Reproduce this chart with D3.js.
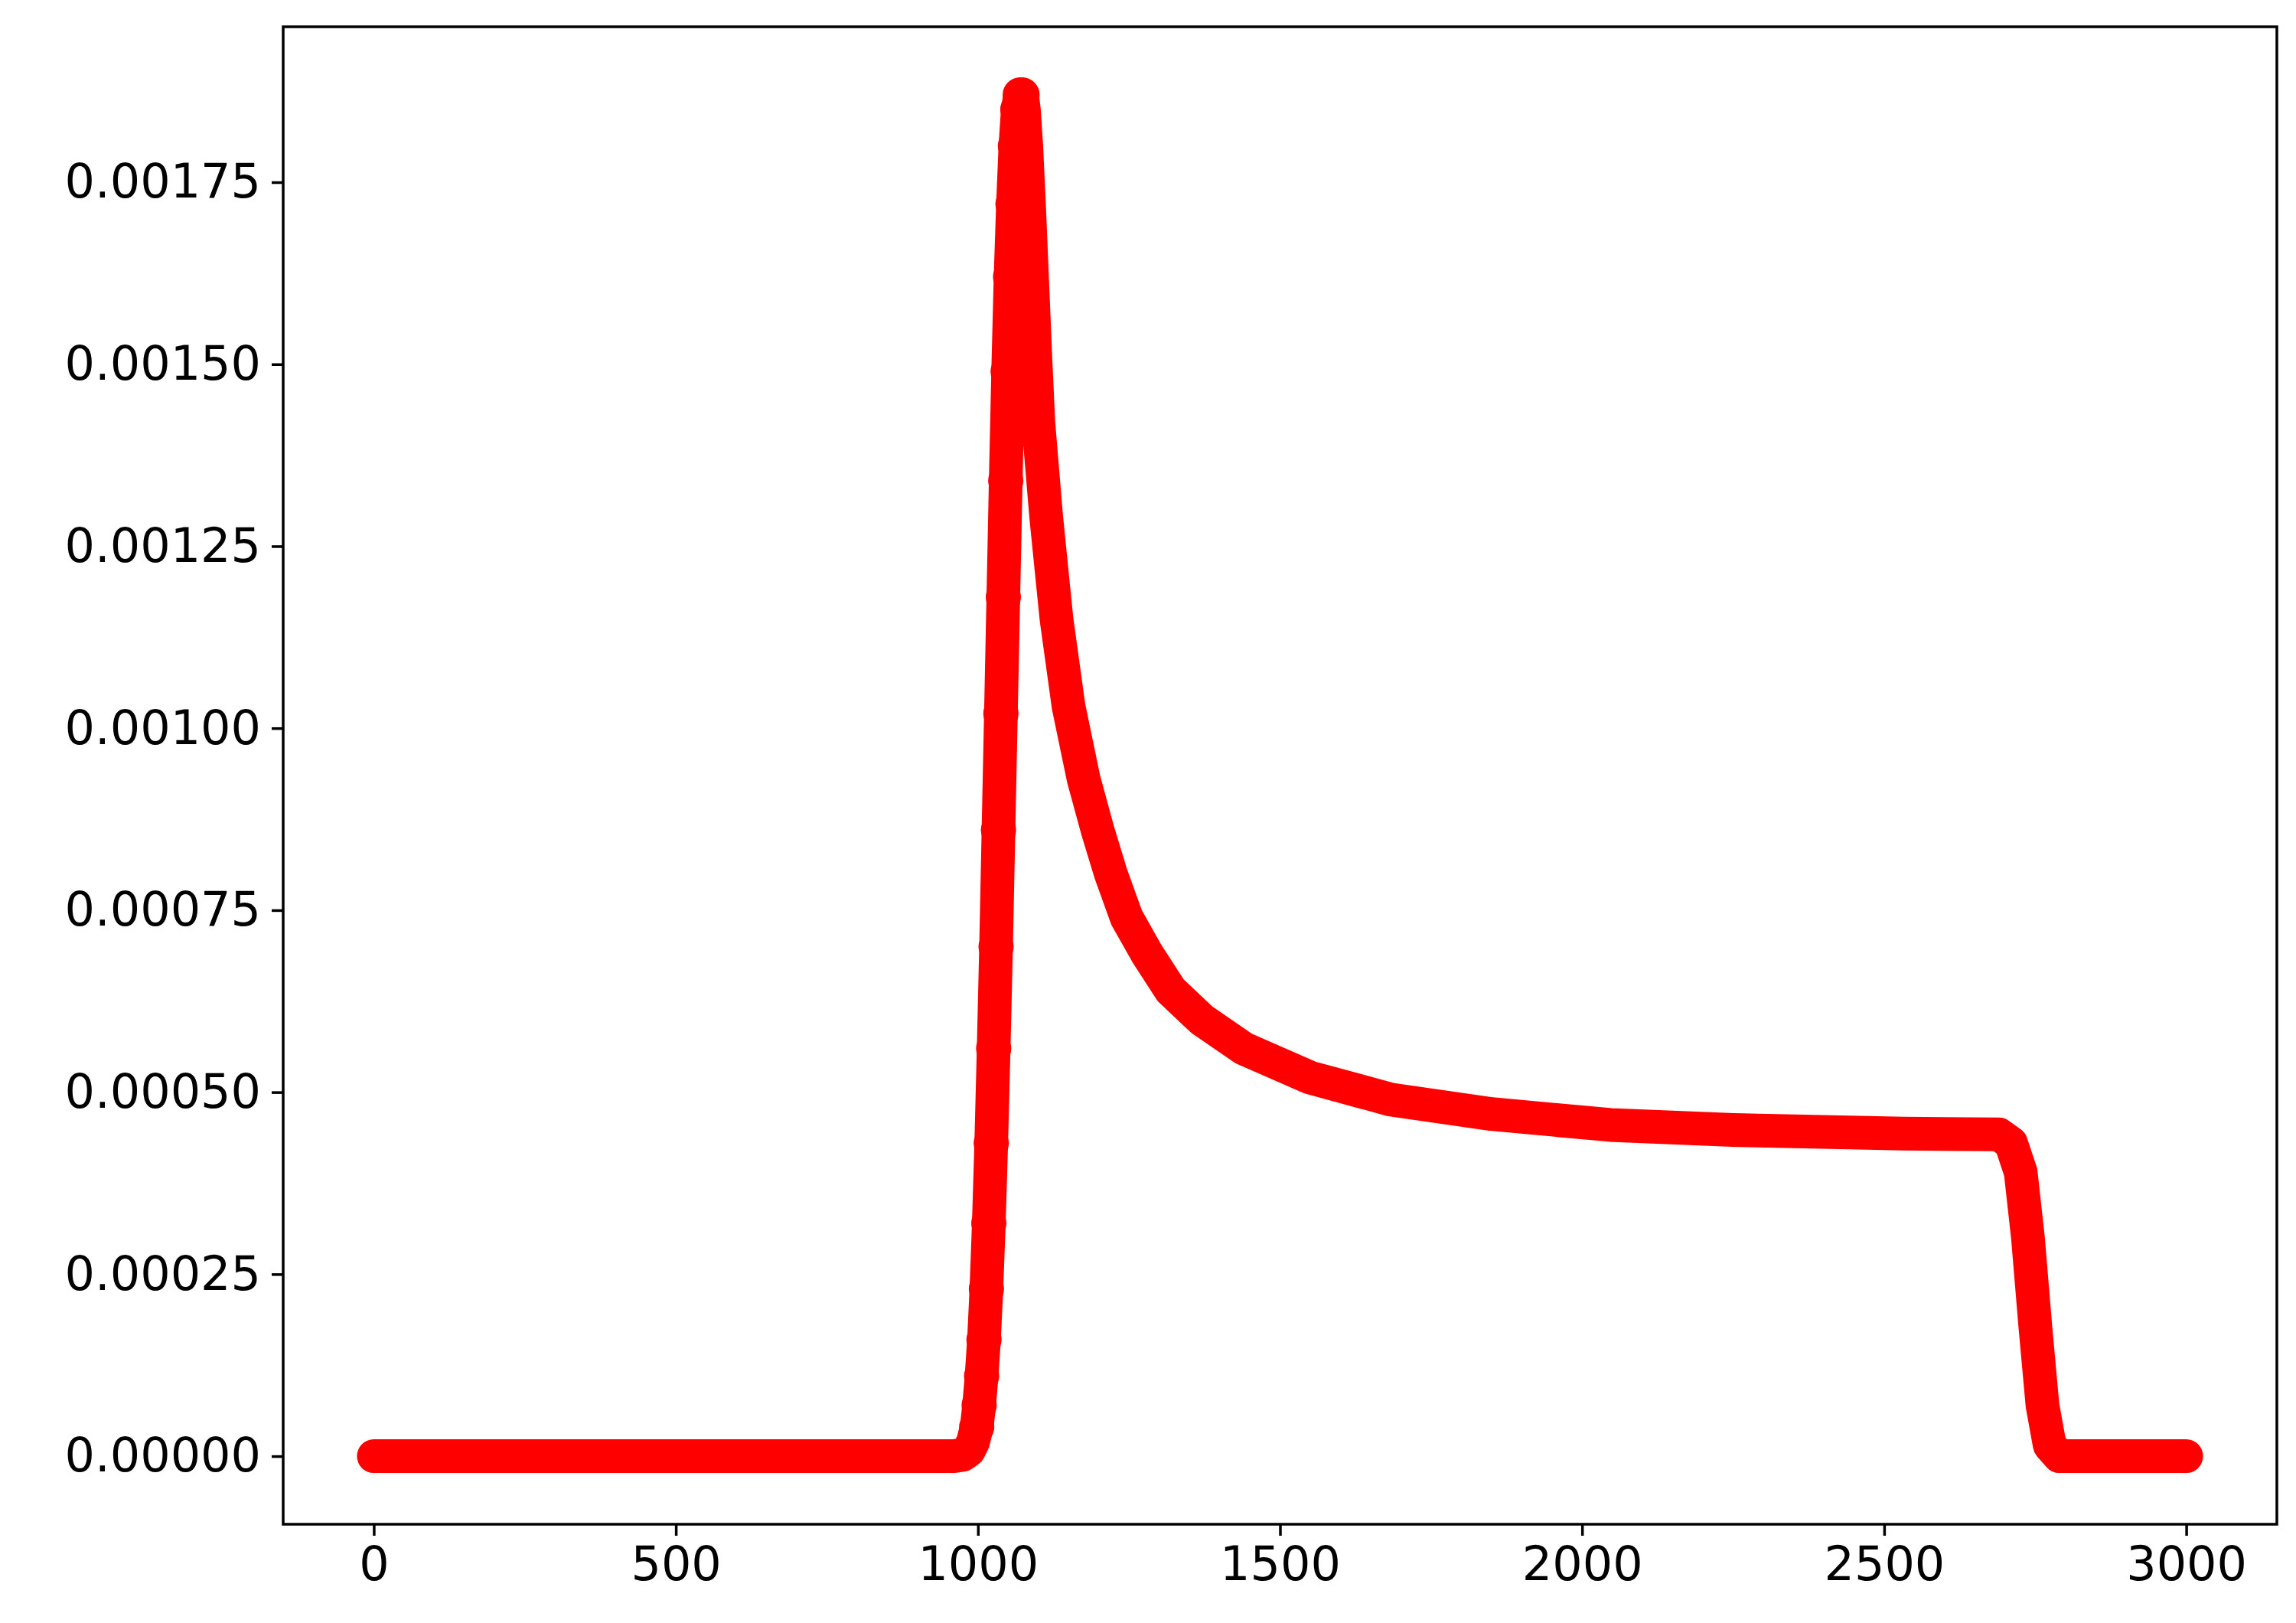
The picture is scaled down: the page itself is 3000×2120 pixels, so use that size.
<!DOCTYPE html>
<html><head><meta charset="utf-8">
<script src="https://cdn.jsdelivr.net/npm/d3@7"></script>
<style>body{margin:0;background:#fff}</style>
</head><body>
<svg id="chart" width="3000" height="2120"></svg>
<script>
// sampled readings (x, value)
const xs = [0, 200, 400, 600, 800, 960, 975, 985, 992, 998,
  1002, 1006, 1010, 1014, 1018, 1022, 1026, 1030, 1034, 1038, 1042, 1046, 1050,
  1054, 1058, 1062, 1066, 1070, 1073, 1076, 1080, 1085, 1090, 1095, 1100, 1113,
  1130, 1150, 1175, 1198, 1220, 1246, 1280, 1319, 1370, 1440, 1550, 1683, 1850,
  2047, 2250, 2532, 2690, 2710, 2726, 2738, 2750, 2762, 2774, 2790, 2850, 3000];
const ys = [0, 0, 0, 0, 0, 0, 0.000002, 0.000008, 0.00002, 0.00004,
  0.00007, 0.00011, 0.00016, 0.00023, 0.00032, 0.00043, 0.00056, 0.00070, 0.00086, 0.00102, 0.00118, 0.00134, 0.00149,
  0.00162, 0.00172, 0.00180, 0.00185, 0.00187, 0.00187, 0.00185, 0.00180, 0.00171, 0.00161, 0.00151, 0.00142, 0.00129,
  0.00115, 0.00103, 0.00093, 0.00086, 0.00080, 0.00074, 0.00069, 0.00064, 0.00060, 0.00056, 0.00052, 0.00049, 0.00047,
  0.000455, 0.000448, 0.000443, 0.000442, 0.00043, 0.00039, 0.00030, 0.00018, 0.00007, 0.000015, 0, 0, 0];
const xTicks = [0, 500, 1000, 1500, 2000, 2500, 3000];
const yTicks = [0, 0.00025, 0.0005, 0.00075, 0.001, 0.00125, 0.0015, 0.00175];

const svg = d3.select("#chart");
const m = { left: 370, right: 2975, top: 35, bottom: 1991 };

const x = d3.scaleLinear().domain([-150, 3150]).range([m.left, m.right]);
const y = d3.scaleLinear().domain([-0.0000935, 0.0019635]).range([m.bottom, m.top]);

const data = xs.map((d, i) => [d, ys[i]]);

svg.append("path")
    .datum(data)
    .attr("d", d3.line().x(d => x(d[0])).y(d => y(d[1])))
    .attr("fill", "none")
    .attr("stroke", "#ff0000")
    .attr("stroke-width", 44)
    .attr("stroke-linejoin", "round")
    .attr("stroke-linecap", "round");

svg.selectAll("circle")
    .data(data.filter(d => d[0] >= 998 && d[0] <= 1073))
    .enter()
    .append("circle")
    .attr("cx", d => x(d[0]))
    .attr("cy", d => y(d[1]))
    .attr("r", 23)
    .attr("fill", "#ff0000");

const xAxis = svg.append("g")
    .attr("transform", `translate(0,${m.bottom})`)
    .call(d3.axisBottom(x).tickValues(xTicks).tickFormat(d3.format("d")).tickSize(15).tickPadding(14));
const yAxis = svg.append("g")
    .attr("transform", `translate(${m.left},0)`)
    .call(d3.axisLeft(y).tickValues(yTicks).tickFormat(d3.format(".5f")).tickSize(15).tickPadding(14));

[xAxis, yAxis].forEach(g => {
    g.select(".domain").remove();
    g.selectAll("line").attr("stroke", "#000").attr("stroke-width", 3.5);
    g.selectAll("text").attr("font-family", "DejaVu Sans").attr("font-size", 62).attr("fill", "#000");
});

svg.append("rect")
    .attr("x", m.left).attr("y", m.top)
    .attr("width", m.right - m.left).attr("height", m.bottom - m.top)
    .attr("fill", "none").attr("stroke", "#000").attr("stroke-width", 3.5);
</script>
</body></html>
